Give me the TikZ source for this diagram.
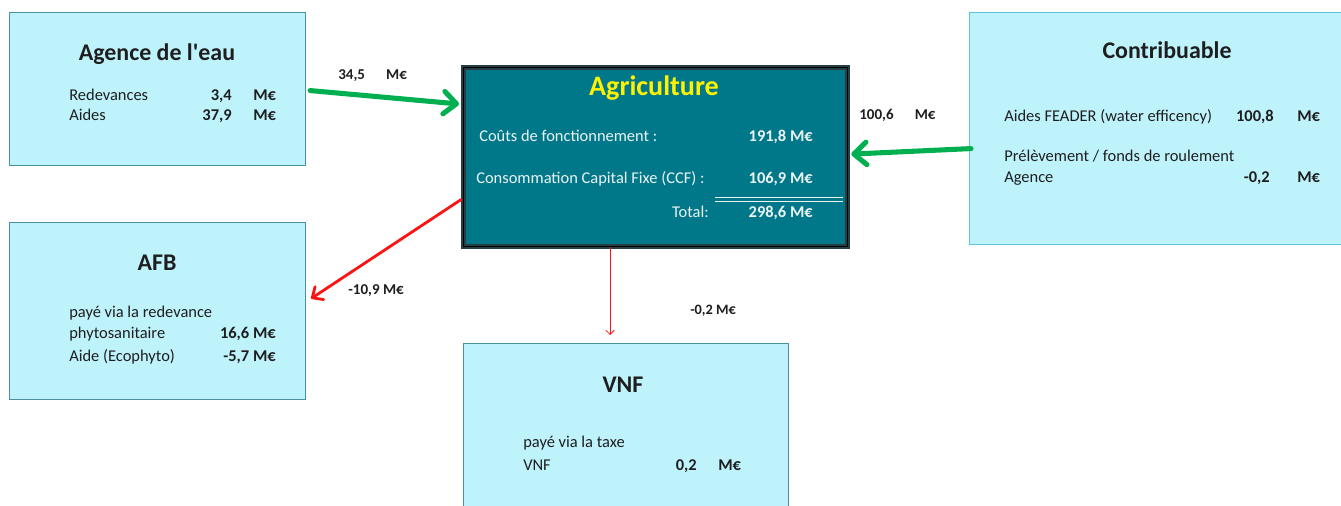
\documentclass[tikz,border=0pt]{standalone}
\usepackage{fontspec}
\setmainfont{Carlito}
\usepackage{xcolor}
\usetikzlibrary{arrows.meta}
\usetikzlibrary{calc}
\definecolor{mycyan}{RGB}{191,243,252}
\definecolor{myedge}{RGB}{74,143,163}
\definecolor{myedge2}{RGB}{92,198,222}
\definecolor{myteal}{RGB}{0,120,138}
\definecolor{mydark}{RGB}{38,62,68}
\definecolor{mygreen}{RGB}{0,176,80}
\definecolor{myred}{RGB}{250,20,20}
\definecolor{mytext}{RGB}{30,30,30}
\definecolor{mywhite}{RGB}{236,243,243}

\begin{document}
\begin{tikzpicture}[x=0.025cm, y=-0.025cm,
  box/.style={rectangle, draw=myedge, fill=mycyan, line width=0.8pt, inner sep=0pt, anchor=north west},
  title/.style={font=\fontsize{17}{20}\selectfont\bfseries, text=mytext, inner sep=0pt, anchor=base},
  txt/.style={font=\fontsize{11.7}{14}\selectfont, text=mytext, inner sep=0pt, anchor=base west},
  num/.style={font=\fontsize{11.7}{14}\selectfont\bfseries, text=mytext, inner sep=0pt, anchor=base east},
  unit/.style={font=\fontsize{11.7}{14}\selectfont\bfseries, text=mytext, inner sep=0pt, anchor=base west},
  lbl/.style={font=\fontsize{10.7}{13}\selectfont\bfseries, text=mytext, inner sep=0pt, anchor=base west},
  agtxt/.style={font=\fontsize{11.7}{14}\selectfont, text=mywhite, inner sep=0pt, anchor=base west},
  agnum/.style={font=\fontsize{11.7}{14}\selectfont\bfseries, text=mywhite, inner sep=0pt, anchor=base east},
  flow/.style={line width=3.6pt, line cap=round, -{Straight Barb[length=9pt,width=16pt,round]}},
]
  \useasboundingbox (0,0) rectangle (1341,506);
  \clip (0,0) rectangle (1341,506);

  % boxes
  \node[box, minimum width=296*0.025cm, minimum height=153*0.025cm] (agence) at (9,12) {};
  \node[box, minimum width=296*0.025cm, minimum height=177*0.025cm] (afb) at (9,222) {};
  \node[box, minimum width=325*0.025cm, minimum height=180*0.025cm] (vnf) at (463,343) {};
  \node[box, draw=myedge2, minimum width=390*0.025cm, minimum height=232*0.025cm] (contrib) at (969,12) {};
  \node[rectangle, anchor=north west, inner sep=0pt, fill=myteal, draw=mydark, line width=1.6pt,
        double=black, double distance=0.5pt,
        minimum width=384*0.025cm, minimum height=179*0.025cm] (agri) at (462,66) {};

  % Agence de l'eau
  \node[title] (agenceT) at (157,60) {Agence de l\textquotesingle eau};
  \node[txt] (agenceA) at (69,100) {Redevances};
  \node[num] (agenceAv) at (232,100) {3,4};
  \node[unit] (agenceAu) at (253,100) {M€};
  \node[txt] (agenceB) at (69,120) {Aides};
  \node[num] (agenceBv) at (232,120) {37,9};
  \node[unit] (agenceBu) at (253,120) {M€};

  % Agriculture
  \node[font=\fontsize{20}{24}\selectfont\bfseries, text=yellow, inner sep=0pt, anchor=base] (agriT) at (654,95) {Agriculture};
  \node[agtxt] (agriA) at (479,141) {Coûts de fonctionnement :};
  \node[agnum] (agriAv) at (813,141) {191,8 M€};
  \node[agtxt] (agriB) at (476,183) {Consommation Capital Fixe (CCF) :};
  \node[agnum] (agriBv) at (813,183) {106,9 M€};
  \coordinate (totA) at (715,199.5);
  \coordinate (totB) at (843,199.5);
  \draw[draw=mywhite, line width=0.7pt, double=myteal, double distance=1.6pt] (totA) -- (totB);
  \node[agtxt, anchor=base east] (agriC) at (709,217) {Total:};
  \node[agnum] (agriCv) at (813,217) {298,6 M€};

  % Contribuable
  \node[title] (contT) at (1167,58) {Contribuable};
  \node[txt] (contA) at (1004,121) {Aides FEADER (water efficency)};
  \node[num] (contAv) at (1274,121) {100,8};
  \node[unit] (contAu) at (1297,121) {M€};
  \node[txt] (contB) at (1004,161) {Prélèvement / fonds de roulement};
  \node[txt] (contC) at (1004,182) {Agence};
  \node[num] (contCv) at (1270,182) {-0,2};
  \node[unit] (contCu) at (1297,182) {M€};

  % AFB
  \node[title] (afbT) at (157,270) {AFB};
  \node[txt] (afbA) at (69,317) {payé via la redevance};
  \node[txt] (afbB) at (69,338) {phytosanitaire};
  \node[num] (afbBv) at (276,338) {16,6 M€};
  \node[txt] (afbC) at (69,361) {Aide (Ecophyto)};
  \node[num] (afbCv) at (276,361) {-5,7 M€};

  % VNF
  \node[title] (vnfT) at (623,392) {VNF};
  \node[txt] (vnfA) at (523,447) {payé via la taxe};
  \node[txt] (vnfB) at (523,470) {VNF};
  \node[num] (vnfBv) at (697,470) {0,2};
  \node[unit] (vnfBu) at (718,470) {M€};

  % flows
  \draw[flow, mygreen] ($(agence.east)+(4,1.5)$) -- ($(agri.north west)+(-3,38)$);
  \node[lbl] (flowA) at (338,79) {34,5\hspace{15pt}M€};
  \draw[flow, mygreen] ($(contrib.west)+(2,20)$) -- ($(agri.east)+(3,-2.5)$);
  \node[lbl] (flowC) at (859,119) {100,6\hspace{15pt}M€};
  \draw[myred, line width=2pt, line cap=round, -{Straight Barb[length=6pt,width=11pt,round]}]
    ($(agri.west)+(-1,43)$) -- ($(afb.east)+(5,-12.5)$);
  \node[lbl] (flowB) at (348,294) {-10,9 M€};
  \draw[myred, line width=0.6pt, -{Straight Barb[length=3pt,width=6pt]}]
    ($(agri.south west)+(148,0)$) -- ($(vnf.north west)+(147,-8)$);
  \node[lbl, font=\fontsize{10.2}{12}\selectfont\bfseries] (flowD) at (690,314) {-0,2 M€};
\end{tikzpicture}
\end{document}
